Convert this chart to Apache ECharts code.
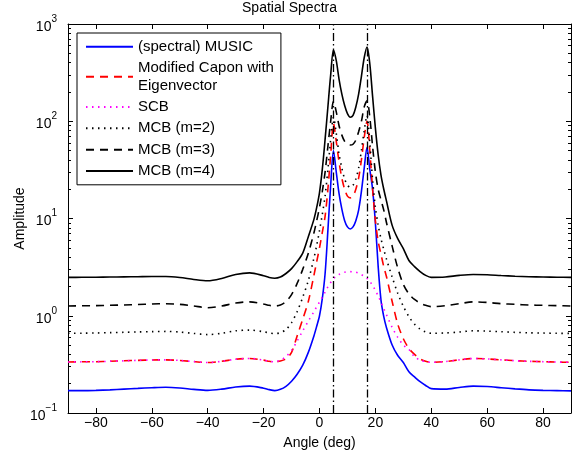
<!DOCTYPE html>
<html>
<head>
<meta charset="utf-8">
<script src="https://cdn.jsdelivr.net/npm/echarts@6/dist/echarts.min.js"></script>
<style>html,body{margin:0;padding:0;background:#fff}#c{width:579px;height:459px}</style>
</head>
<body>
<div id="c"></div>
<script>
var angles = [-90,-85,-80,-75,-70,-65,-60,-55,-50,-45,-40,-35,-30,-25,-20,
  -18,-16,-14,-12,-10,-8,-6,-4,-2,
  -1,0,1,2,3,4,5,6,7,8,9,10,11,12,13,14,15,16,17,18,19,20,21,22,23,
  24,26,28,30,32,34,36,38,40,
  45,50,55,60,65,70,75,80,85,90];

var music = [0.170,0.170,0.171,0.173,0.176,0.179,0.182,0.184,0.181,0.175,0.171,0.176,0.185,0.189,0.180,
  0.174,0.170,0.175,0.188,0.212,0.25,0.31,0.42,0.62,
  0.78,1.0,1.5,2.7,7.5,22,50,30,18,12.5,9.5,8.2,7.8,8.2,9.5,12.2,19,33,54,32,20,9,3.2,1.45,0.98,
  0.75,0.5,0.39,0.33,0.265,0.235,0.21,0.192,0.178,
  0.176,0.183,0.189,0.187,0.182,0.177,0.173,0.171,0.170,0.169];

var capon = [0.335,0.336,0.337,0.340,0.344,0.348,0.351,0.352,0.347,0.338,0.330,0.340,0.357,0.364,0.350,
  0.340,0.336,0.342,0.36,0.42,0.62,0.92,1.4,2.6,
  3.6,5.0,7.2,10.5,20,45,95,62,38,26,20,17,16.3,17,20,26,40,68,100,50,20,9.5,5.8,4.3,3.2,
  2.5,1.4,0.82,0.58,0.46,0.40,0.36,0.34,0.332,
  0.338,0.352,0.363,0.360,0.352,0.345,0.340,0.337,0.334,0.332];

var scb = [0.335,0.336,0.337,0.340,0.344,0.348,0.351,0.352,0.347,0.338,0.330,0.340,0.357,0.364,0.350,
  0.340,0.336,0.35,0.38,0.44,0.55,0.70,0.88,1.1,
  1.24,1.38,1.55,1.75,1.98,2.2,2.4,2.55,2.66,2.75,2.8,2.83,2.84,2.83,2.8,2.74,2.65,2.55,2.42,2.25,2.05,1.82,1.6,1.38,1.18,
  1.02,0.76,0.6,0.5,0.45,0.38,0.35,0.338,0.332,
  0.338,0.352,0.363,0.360,0.352,0.345,0.340,0.337,0.334,0.332];

var mcb2 = [0.66,0.662,0.665,0.67,0.676,0.682,0.687,0.69,0.68,0.658,0.64,0.66,0.70,0.712,0.685,
  0.665,0.655,0.67,0.72,0.85,1.1,1.55,2.3,3.9,
  5.3,7.5,11,17,32,65,110,75,46,33,25.5,22,21,22,25.5,33,50,80,115,60,25,13,8.5,6.2,4.8,
  3.8,2.5,1.7,1.25,0.98,0.82,0.73,0.68,0.66,
  0.665,0.68,0.70,0.695,0.685,0.675,0.668,0.664,0.66,0.658];

var mcb3 = [1.26,1.265,1.27,1.28,1.29,1.305,1.32,1.33,1.31,1.26,1.21,1.26,1.35,1.39,1.32,
  1.28,1.26,1.29,1.4,1.65,2.15,3.0,4.4,7.1,
  9.5,13,19,30,55,100,160,125,90,72,62,58,57,58,64,78,100,140,162,110,55,30,20,15.5,12.2,
  9,5.2,3.1,2.1,1.68,1.47,1.35,1.28,1.24,
  1.27,1.33,1.39,1.37,1.33,1.31,1.29,1.28,1.27,1.26];

var mcb4 = [2.48,2.485,2.49,2.5,2.51,2.52,2.53,2.53,2.47,2.36,2.29,2.42,2.66,2.76,2.58,
  2.47,2.43,2.5,2.72,3.05,3.6,4.4,6.5,9.8,
  13,18.5,32,65,140,300,540,420,270,190,145,120,110,115,140,190,290,450,580,390,180,85,45,28,20,
  15,8.5,6.2,4.9,3.7,3.2,2.85,2.6,2.48,
  2.5,2.6,2.66,2.64,2.59,2.55,2.52,2.5,2.49,2.48];

var sourceAngles = [5, 17];
var xTicks = [-80,-60,-40,-20,0,20,40,60,80];
var yTicks = [0.1,1,10,100,1000];
var yMinorTicks = [0.2,0.3,0.4,0.5,0.6,0.7,0.8,0.9,2,3,4,5,6,7,8,9,20,30,40,50,60,70,80,90,200,300,400,500,600,700,800,900];
var seriesNames = ['(spectral) MUSIC','Modified Capon with\nEigenvector','SCB','MCB (m=2)','MCB (m=3)','MCB (m=4)'];

function pairs(vals){ return angles.map(function(a,i){ return [a, vals[i]]; }); }

var FONT = '"Liberation Sans", Arial, Helvetica, sans-serif';
var chart = echarts.init(document.getElementById('c'), null, {renderer:'canvas'});

function mkSeries(name, vals, color, type, width, extra){
  var s = {
    name: name, type: 'line', data: pairs(vals), showSymbol: false, symbol: 'none',
    smooth: 0.3, xAxisIndex: 0, yAxisIndex: 0,
    lineStyle: {color: color, width: width, type: type}, itemStyle: {color: color},
    emphasis: {disabled: true}, animation: false
  };
  if (extra) for (var k in extra) s[k] = extra[k];
  return s;
}

var axisLineOn = {show: true, onZero: false, lineStyle: {color: '#000', width: 1}};
var axisLineOff = {show: false, onZero: false};
var xBase = {type:'value', min:-90, max:90, splitLine:{show:false}, axisLine: axisLineOn};
var yBase = {type:'log', logBase:10, min:0.1, max:1000, splitLine:{show:false}};

function fmtNum(v){ return v < 0 ? '\u2212' + Math.abs(v) : String(v); }

var option = {
  animation: false,
  textStyle: {fontFamily: FONT},
  title: {text: 'Spatial Spectra', left: 'center', top: 0, padding: [1,0,0,0],
    textStyle: {fontSize: 14, fontWeight: 'normal', color: '#000', fontFamily: FONT}},
  grid: {left: 68, right: 8, top: 24, bottom: 46},
  legend: {
    orient: 'vertical', left: 77, top: 33, itemWidth: 47, itemHeight: 14, itemGap: 4,
    padding: [5, 7, 5, 8], borderColor: '#000', borderWidth: 1, backgroundColor: '#fff',
    itemStyle: {color: 'transparent', borderWidth: 0, borderColor: 'transparent', opacity: 0},
    textStyle: {fontSize: 15, color: '#000', lineHeight: 17.4, fontFamily: FONT},
    data: seriesNames, selectedMode: false
  },
  xAxis: [
    Object.assign({}, xBase, {position:'bottom',
      axisTick: {show:true, inside:true, length:5, customValues: xTicks, lineStyle:{color:'#000'}},
      axisLabel: {show:true, customValues: xTicks, margin: 3, color:'#000', fontSize:14, fontFamily: FONT, formatter: fmtNum},
      name: 'Angle (deg)', nameLocation: 'middle', nameGap: 23, nameMoveOverlap: false,
      nameTextStyle: {fontSize: 14, color:'#000', fontFamily: FONT}}),
    Object.assign({}, xBase, {position:'top',
      axisTick: {show:true, inside:true, length:5, customValues: xTicks, lineStyle:{color:'#000'}},
      axisLabel: {show:false}})
  ],
  yAxis: [
    Object.assign({}, yBase, {position:'left', axisLine: axisLineOn,
      axisTick: {show:true, inside:true, length:5, customValues: yTicks, lineStyle:{color:'#000'}},
      axisLabel: {show:true, customValues: yTicks, margin: 11, color:'#000',
        formatter: function(v){ var e = Math.round(Math.log(v)/Math.LN10); return '{b|10}{s|' + fmtNum(e) + '}'; },
        rich: {
          b: {fontSize: 14, color:'#000', fontFamily: FONT, lineHeight: 20, verticalAlign: 'bottom'},
          s: {fontSize: 10, color:'#000', fontFamily: FONT, lineHeight: 12, verticalAlign: 'top'}
        }},
      name: 'Amplitude', nameLocation: 'middle', nameGap: 41, nameRotate: 90, nameMoveOverlap: false,
      nameTextStyle: {fontSize: 14, color:'#000', fontFamily: FONT}}),
    Object.assign({}, yBase, {position:'left', axisLine: axisLineOff,
      axisTick: {show:true, inside:true, length:3, customValues: yMinorTicks, lineStyle:{color:'#000'}},
      axisLabel: {show:false}}),
    Object.assign({}, yBase, {position:'right', axisLine: axisLineOn,
      axisTick: {show:true, inside:true, length:5, customValues: yTicks, lineStyle:{color:'#000'}},
      axisLabel: {show:false}}),
    Object.assign({}, yBase, {position:'right', axisLine: axisLineOff,
      axisTick: {show:true, inside:true, length:3, customValues: yMinorTicks, lineStyle:{color:'#000'}},
      axisLabel: {show:false}})
  ],
  series: [
    mkSeries(seriesNames[0], music, '#0000ff', 'solid', 1.6),
    mkSeries(seriesNames[1], capon, '#ff0000', [8,6], 1.6),
    mkSeries(seriesNames[2], scb, '#ff00ff', [1.5,4.5], 1.6),
    mkSeries(seriesNames[3], mcb2, '#000000', [1.5,4.5], 1.6),
    mkSeries(seriesNames[4], mcb3, '#000000', [8,6], 1.6),
    mkSeries(seriesNames[5], mcb4, '#000000', 'solid', 1.6, {
      markLine: {silent: true, symbol: ['none','none'], animation: false,
        label: {show: false},
        lineStyle: {color: '#000', width: 1.3, type: [8,3,1.5,3]},
        data: sourceAngles.map(function(a){ return {xAxis: a}; })}
    })
  ]
};
chart.setOption(option);
</script>
</body>
</html>
